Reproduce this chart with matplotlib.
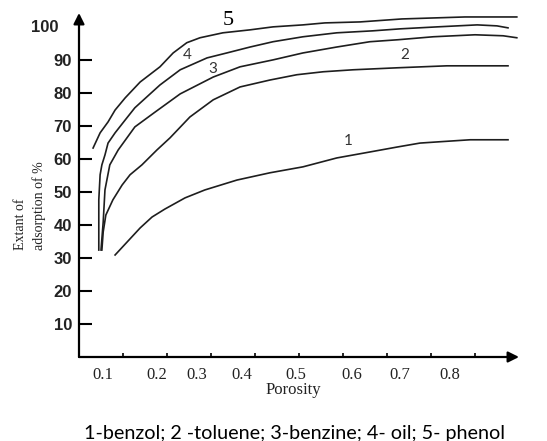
import matplotlib
matplotlib.use("Agg")
import matplotlib.pyplot as plt

# adsorption curves: porosity vs extent of adsorption (%)
benzol_x = [0.082, 0.139, 0.166, 0.195, 0.241, 0.286, 0.359, 0.434, 0.509, 0.586,
            0.661, 0.723, 0.775, 0.820, 0.889, 0.975]
benzol_y = [30.9, 39.1, 42.4, 44.8, 48.2, 50.6, 53.6, 55.8, 57.6, 60.3,
            62.1, 63.6, 64.8, 65.2, 65.8, 65.8]

toluene_x = [0.052, 0.055, 0.061, 0.077, 0.098, 0.116, 0.143, 0.177, 0.207, 0.252,
             0.305, 0.366, 0.434, 0.495, 0.555, 0.623, 0.723, 0.836, 0.975]
toluene_y = [32.4, 37.9, 43.0, 47.6, 52.1, 55.2, 58.2, 62.7, 66.4, 72.7,
             77.9, 81.8, 83.9, 85.5, 86.4, 87.0, 87.6, 88.2, 88.2]

benzine_x = [0.050, 0.055, 0.059, 0.070, 0.089, 0.127, 0.173, 0.230, 0.305, 0.366,
             0.441, 0.509, 0.586, 0.661, 0.725, 0.805, 0.900, 0.964, 0.995]
benzine_y = [32.4, 40.9, 50.6, 58.2, 62.7, 69.7, 74.2, 79.7, 84.8, 87.9,
             90.0, 92.1, 93.9, 95.5, 96.1, 97.0, 97.6, 97.3, 96.7]

oil_x = [0.045, 0.045, 0.048, 0.052, 0.059, 0.066, 0.082, 0.105, 0.127, 0.184,
         0.230, 0.291, 0.336, 0.389, 0.441, 0.509, 0.586, 0.668, 0.730, 0.814,
         0.905, 0.950, 0.975]
oil_y = [32.4, 47.6, 55.2, 58.2, 61.2, 64.8, 67.9, 71.8, 75.5, 82.4,
         87.0, 90.6, 92.1, 93.9, 95.5, 97.0, 98.2, 98.8, 99.4, 100.0,
         100.6, 100.3, 99.7]

phenol_x = [0.032, 0.048, 0.066, 0.082, 0.105, 0.139, 0.184, 0.214, 0.245, 0.275,
            0.327, 0.389, 0.441, 0.509, 0.559, 0.639, 0.734, 0.877, 0.995]
phenol_y = [63.3, 67.9, 71.2, 74.8, 78.5, 83.3, 87.9, 92.1, 95.2, 96.7,
            98.2, 99.1, 100.0, 100.6, 101.2, 101.5, 102.4, 103.0, 103.0]

y_ticks = [10, 20, 30, 40, 50, 60, 70, 80, 90]
x_ticks = [0.1, 0.2, 0.3, 0.4, 0.5, 0.6, 0.7, 0.8, 0.9]
x_labels = ["0.1", "0.2", "0.3", "0.4", "0.5", "0.6", "0.7", "0.8"]
x_label_pos = [0.055, 0.177, 0.268, 0.370, 0.493, 0.620, 0.729, 0.843]

fig = plt.figure(figsize=(5.47, 4.41), dpi=100, facecolor="white")
ax = fig.add_axes([79 / 547, 84 / 441, 440 / 547, 344 / 441])
ax.set_xlim(0, 1.0)
ax.set_ylim(0, 104.2)

line_kw = dict(color="#1e1e1e", lw=1.2)
for xs, ys in [(benzol_x, benzol_y), (toluene_x, toluene_y), (benzine_x, benzine_y),
               (oil_x, oil_y), (phenol_x, phenol_y)]:
    ax.plot(xs, ys, **line_kw)

# axes drawn as arrows
for sp in ax.spines.values():
    sp.set_visible(False)
arrow = dict(arrowstyle="-|>", lw=1.6, color="black", mutation_scale=16,
             shrinkA=0, shrinkB=0)
ax.annotate("", xy=(0, 104.2), xytext=(0, 0), arrowprops=arrow, annotation_clip=False)
ax.annotate("", xy=(1.0, 0), xytext=(0, 0), arrowprops=arrow, annotation_clip=False)

tick_font = dict(fontfamily="Liberation Sans", fontsize=12, fontweight="bold",
                 color="#222222")
ax.set_yticks(y_ticks)
ax.set_yticklabels([str(v) for v in y_ticks], **tick_font)
ax.tick_params(axis="y", direction="in", length=9, width=1.5, pad=5)
# the 100 label sits further left, under the arrow head
fig.text(59 / 547, 1 - 28 / 441, "100", ha="right", va="center", **tick_font)

ax.set_xticks(x_ticks)
ax.set_xticklabels([])
ax.tick_params(axis="x", direction="in", length=3, width=1.2)
for pos, lab in zip(x_label_pos, x_labels):
    ax.text(pos, -5.5, lab, ha="center", va="center", fontfamily="Liberation Serif",
            fontsize=12, color="#222222")

ax.text(0.487, -9.9, "Porosity", ha="center", va="center",
        fontfamily="Liberation Serif", fontsize=12, color="#222222")
fig.text(30 / 547, 1 - 250 / 441, "Extant of\nadsorption of %", rotation=90,
         rotation_mode="anchor", ha="left", va="center", multialignment="left",
         fontfamily="Liberation Serif", fontsize=10, linespacing=1.45, color="#222222")

# curve numbers
ax.text(0.34, 101.9, "5", ha="center", va="center", fontfamily="Liberation Serif",
        fontsize=16, color="black")
for xp, yp, s in [(0.245, 91.5, "4"), (0.305, 87.3, "3"), (0.74, 91.5, "2"),
                  (0.611, 65.5, "1")]:
    ax.text(xp, yp, s, ha="center", va="center", fontfamily="Lato",
            fontsize=11, color="#333333")

fig.text(294 / 547, 1 - 433 / 441,
         "1-benzol; 2 -toluene; 3-benzine; 4- oil; 5- phenol",
         ha="center", va="center", fontfamily="Lato", fontsize=14.2, color="black")

fig.savefig("out.png", dpi=100, facecolor="white")
